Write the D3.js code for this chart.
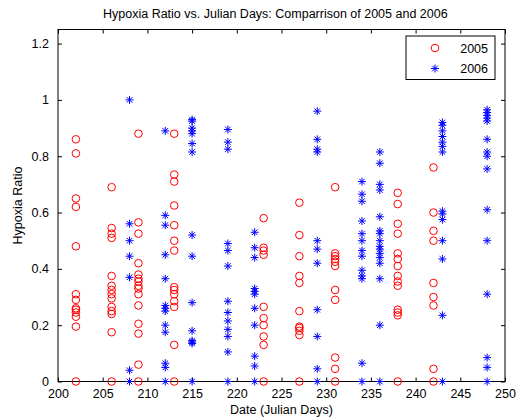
<!DOCTYPE html>
<html>
<head>
<meta charset="utf-8">
<script src="https://cdn.jsdelivr.net/npm/d3@7"></script>
<style>
  body { margin: 0; background: #fff; }
  text { font-family: Arial, "Liberation Sans", sans-serif; }
</style>
</head>
<body>
<div id="chart"></div>
<script>
// Data
var days2005 = [202, 206, 209, 213, 223, 227, 231, 238, 242];
var ratios2005 = [
    [0.86, 0.81, 0.65, 0.62, 0.48, 0.31, 0.29, 0.26, 0.255, 0.245, 0.23, 0.195, 0],
    [0.69, 0.545, 0.525, 0.51, 0.375, 0.34, 0.325, 0.31, 0.295, 0.265, 0.25, 0.24, 0.175, 0],
    [0.88, 0.565, 0.525, 0.42, 0.38, 0.365, 0.355, 0.34, 0.33, 0.31, 0.27, 0.205, 0.17, 0.06, 0],
    [0.88, 0.735, 0.71, 0.625, 0.555, 0.5, 0.465, 0.335, 0.325, 0.31, 0.285, 0.265, 0.13, 0],
    [0.58, 0.475, 0.465, 0.45, 0.265, 0.225, 0.2, 0.16, 0.13, 0],
    [0.635, 0.52, 0.445, 0.375, 0.35, 0.25, 0.195, 0.19, 0.18, 0.165, 0],
    [0.69, 0.455, 0.445, 0.435, 0.425, 0.41, 0.325, 0.29, 0.085, 0.045, 0],
    [0.67, 0.63, 0.56, 0.525, 0.455, 0.435, 0.41, 0.375, 0.355, 0.34, 0.255, 0.245, 0.235, 0],
    [0.76, 0.6, 0.535, 0.5, 0.35, 0.3, 0.27, 0.045, 0]
];
var days2006 = [208, 212, 215, 219, 222, 229, 234, 236, 243, 248];
var ratios2006 = [
    [1.0, 0.56, 0.5, 0.445, 0.37, 0.04, 0],
    [0.89, 0.59, 0.555, 0.45, 0.365, 0.27, 0.26, 0.25, 0.2, 0.175, 0.065, 0.05, 0],
    [0.93, 0.925, 0.9, 0.89, 0.88, 0.845, 0.815, 0.52, 0.445, 0.28, 0.18, 0.145, 0.14, 0.135, 0],
    [0.895, 0.85, 0.825, 0.49, 0.465, 0.41, 0.285, 0.245, 0.215, 0.185, 0.16, 0.105, 0],
    [0.53, 0.475, 0.44, 0.33, 0.32, 0.31, 0.26, 0.2, 0.09, 0.055, 0],
    [0.96, 0.86, 0.825, 0.815, 0.5, 0.47, 0.42, 0.255, 0.16, 0.045, 0],
    [0.71, 0.665, 0.64, 0.57, 0.525, 0.5, 0.465, 0.445, 0.395, 0.375, 0.365, 0.065, 0],
    [0.815, 0.775, 0.7, 0.68, 0.585, 0.535, 0.525, 0.5, 0.48, 0.47, 0.455, 0.44, 0.42, 0.365, 0.2, 0],
    [0.92, 0.91, 0.89, 0.87, 0.85, 0.835, 0.815, 0.605, 0.595, 0.575, 0.5, 0.435, 0.235, 0],
    [0.965, 0.955, 0.945, 0.935, 0.925, 0.86, 0.815, 0.8, 0.755, 0.61, 0.5, 0.31, 0.085, 0.05, 0]
];
var xTicks = [200, 205, 210, 215, 220, 225, 230, 235, 240, 245, 250];
var yTicks = [0, 0.2, 0.4, 0.6, 0.8, 1, 1.2];

var margin = {top: 29.5, right: 14, bottom: 37.5, left: 58},
    width = 519 - margin.left - margin.right,
    height = 419 - margin.top - margin.bottom;

var svg = d3.select("#chart")
    .append("svg")
    .attr("width", 519)
    .attr("height", 419)
    .append("g")
    .attr("transform", "translate(" + margin.left + "," + margin.top + ")");

var x = d3.scaleLinear().domain([200, 250]).range([0, width]);
var y = d3.scaleLinear().domain([0, 1.25]).range([height, 0]);

// flatten to points
function flatten(days, ratios) {
    var pts = [];
    days.forEach(function(d, i) {
        ratios[i].forEach(function(v) { pts.push({day: d, value: v}); });
    });
    return pts;
}
var pts2005 = flatten(days2005, ratios2005);
var pts2006 = flatten(days2006, ratios2006);

// box
svg.append("rect")
    .attr("width", width)
    .attr("height", height)
    .attr("fill", "#fff")
    .attr("stroke", "#000")
    .attr("stroke-width", 1);

// axes with inward ticks
function styleAxis(g) {
    g.select(".domain").remove();
    g.selectAll("text").style("font-size", "12.5px").attr("fill", "#000");
    g.selectAll("line").attr("stroke", "#000");
}
svg.append("g")
    .attr("transform", "translate(0," + height + ")")
    .call(d3.axisBottom(x).tickValues(xTicks).tickSizeInner(-4).tickSizeOuter(0).tickPadding(8))
    .call(styleAxis);
svg.append("g")
    .call(d3.axisTop(x).tickValues(xTicks).tickSizeInner(-4).tickSizeOuter(0).tickFormat(""))
    .call(styleAxis);
svg.append("g")
    .call(d3.axisLeft(y).tickValues(yTicks).tickSizeInner(-4).tickSizeOuter(0).tickPadding(9).tickFormat(d3.format("~g")))
    .call(styleAxis);
svg.append("g")
    .attr("transform", "translate(" + width + ",0)")
    .call(d3.axisRight(y).tickValues(yTicks).tickSizeInner(-4).tickSizeOuter(0).tickFormat(""))
    .call(styleAxis);

// 2005 circles
svg.append("g")
    .selectAll("circle")
    .data(pts2005)
    .enter()
    .append("circle")
    .attr("cx", d => x(d.day))
    .attr("cy", d => y(d.value))
    .attr("r", 3.8)
    .attr("fill", "none")
    .attr("stroke", "#ff0000")
    .attr("stroke-width", 1);

// 2006 stars (matlab '*')
var starPath = "M-4,0H4M0,-4V4M-2.8,-2.8L2.8,2.8M-2.8,2.8L2.8,-2.8";
svg.append("g")
    .selectAll("path")
    .data(pts2006)
    .enter()
    .append("path")
    .attr("transform", d => "translate(" + x(d.day) + "," + y(d.value) + ")")
    .attr("d", starPath)
    .attr("fill", "none")
    .attr("stroke", "#0000ff")
    .attr("stroke-width", 1);

// title
svg.append("text")
    .attr("x", 45)
    .attr("y", -12)
    .attr("text-anchor", "start")
    .style("font-size", "12.5px")
    .text("Hypoxia Ratio vs. Julian Days: Comparrison of 2005 and 2006");

// x label
svg.append("text")
    .attr("x", width / 2)
    .attr("y", height + 32)
    .attr("text-anchor", "middle")
    .style("font-size", "12.5px")
    .text("Date (Julian Days)");

// y label
svg.append("text")
    .attr("transform", "rotate(-90)")
    .attr("x", -height / 2)
    .attr("y", -36)
    .attr("text-anchor", "middle")
    .style("font-size", "12.5px")
    .text("Hypoxia Ratio");

// legend
var legend = svg.append("g")
    .attr("transform", "translate(" + (width - 99) + ",6.5)");
legend.append("rect")
    .attr("width", 89)
    .attr("height", 43.5)
    .attr("fill", "#fff")
    .attr("stroke", "#000");
legend.append("circle")
    .attr("cx", 29)
    .attr("cy", 12)
    .attr("r", 3.8)
    .attr("fill", "none")
    .attr("stroke", "#ff0000");
legend.append("path")
    .attr("transform", "translate(29,32.5)")
    .attr("d", starPath)
    .attr("fill", "none")
    .attr("stroke", "#0000ff");
["2005", "2006"].forEach(function(lbl, i) {
    legend.append("text")
        .attr("x", 82)
        .attr("y", 17 + i * 20)
        .attr("text-anchor", "end")
        .style("font-size", "12.5px")
        .text(lbl);
});
</script>
</body>
</html>
